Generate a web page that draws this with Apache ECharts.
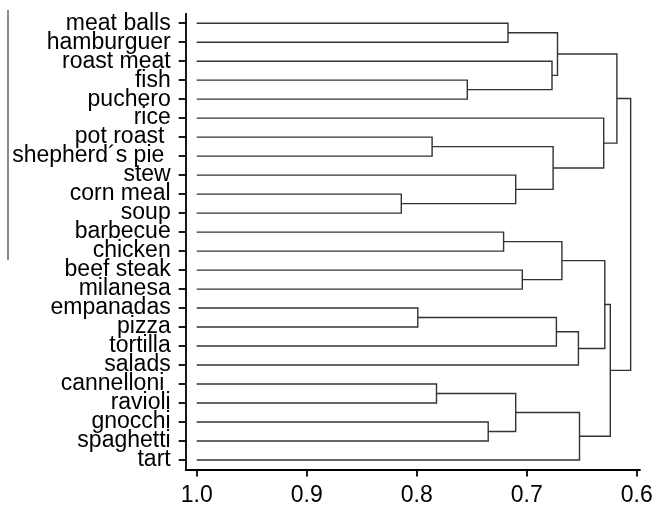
<!DOCTYPE html>
<html>
<head>
<meta charset="utf-8">
<script src="https://cdn.jsdelivr.net/npm/echarts@6/dist/echarts.min.js"></script>
<style>
  html, body { margin: 0; padding: 0; background: #fff; }
  #chart { width: 656px; height: 509px; }
</style>
</head>
<body>
<div id="chart"></div>
<script>
// Leaves of the dendrogram, top to bottom
const foods = [
  'meat balls', 'hamburguer', 'roast meat', 'fish', 'puchero', 'rice',
  'pot roast ', 'shepherd´s pie ', 'stew', 'corn meal', 'soup', 'barbecue',
  'chicken', 'beef steak', 'milanesa', 'empanadas', 'pizza', 'tortilla',
  'salads', 'cannelloni ', 'ravioli', 'gnocchi', 'spaghetti', 'tart'
];

// Agglomeration steps: merged clusters (leaf name or 'm' + step) and similarity level
const mergeLeft = [
  'meat balls', 'fish', 'roast meat', 'm0', 'pot roast ', 'corn meal', 'stew', 'm4',
  'rice', 'm3', 'barbecue', 'beef steak', 'm10', 'empanadas', 'm13', 'm14',
  'm12', 'cannelloni ', 'gnocchi', 'm17', 'm19', 'm16', 'm9'
];
const mergeRight = [
  'hamburguer', 'puchero', 'm1', 'm2', 'shepherd´s pie ', 'soup', 'm5', 'm6',
  'm7', 'm8', 'chicken', 'milanesa', 'm11', 'pizza', 'tortilla', 'salads',
  'm15', 'ravioli', 'spaghetti', 'm18', 'tart', 'm20', 'm21'
];
const mergeLevel = [
  0.717, 0.754, 0.677, 0.672, 0.786, 0.814, 0.710, 0.676,
  0.630, 0.618, 0.721, 0.704, 0.668, 0.799, 0.673, 0.653,
  0.629, 0.782, 0.735, 0.710, 0.652, 0.624, 0.6055
];
const leafLevel = 1.0;
const xTicks = [1.0, 0.9, 0.8, 0.7, 0.6];

// Resolve each node to (level, row position)
const nodes = {};
foods.forEach((f, i) => { nodes[f] = { level: leafLevel, row: i }; });
const links = mergeLevel.map((lv, i) => {
  const a = nodes[mergeLeft[i]];
  const b = nodes[mergeRight[i]];
  nodes['m' + i] = { level: lv, row: (a.row + b.row) / 2 };
  return [a.level, a.row, b.level, b.row, lv];
});

const chart = echarts.init(document.getElementById('chart'));
const fontFamily = '"Liberation Sans", Arial, Helvetica, sans-serif';

chart.setOption({
  animation: false,
  backgroundColor: '#fff',
  grid: { left: 185.7, right: 16, top: 13.7, bottom: 39.5, containLabel: false },
  xAxis: {
    type: 'value',
    inverse: true,
    min: 0.597,
    max: 1.01,
    splitLine: { show: false },
    axisLine: { show: true, onZero: false, lineStyle: { color: '#000', width: 1.8 } },
    axisTick: { show: true, length: 7, lineStyle: { color: '#000', width: 1.8 }, customValues: xTicks },
    axisLabel: {
      customValues: xTicks,
      color: '#000', fontSize: 23, fontFamily, margin: 15,
      formatter: v => v.toFixed(1)
    }
  },
  yAxis: [
    {
      type: 'category',
      inverse: true,
      data: foods,
      axisLine: { show: true, lineStyle: { color: '#000', width: 1.8 } },
      axisTick: { show: true, alignWithLabel: true, length: 7, lineStyle: { color: '#000', width: 1.8 } },
      axisLabel: { color: '#000', fontSize: 23, fontFamily, margin: 15, interval: 0 },
      splitLine: { show: false }
    },
    {
      type: 'value',
      inverse: true,
      min: -0.5,
      max: foods.length - 0.5,
      show: false
    }
  ],
  graphic: [{
    type: 'line',
    shape: { x1: 8, y1: 10, x2: 8, y2: 260 },
    style: { stroke: '#8a8a8a', lineWidth: 2 }
  }],
  series: [{
    type: 'custom',
    yAxisIndex: 1,
    data: links,
    encode: { x: [0, 2, 4], y: [1, 3] },
    renderItem: function (params, api) {
      const p1 = api.coord([api.value(0), api.value(1)]);
      const p2 = api.coord([api.value(4), api.value(1)]);
      const p3 = api.coord([api.value(4), api.value(3)]);
      const p4 = api.coord([api.value(2), api.value(3)]);
      return {
        type: 'polyline',
        shape: { points: [p1, p2, p3, p4] },
        style: { stroke: '#333', lineWidth: 1.4, fill: null }
      };
    },
    silent: true
  }]
});
</script>
</body>
</html>
